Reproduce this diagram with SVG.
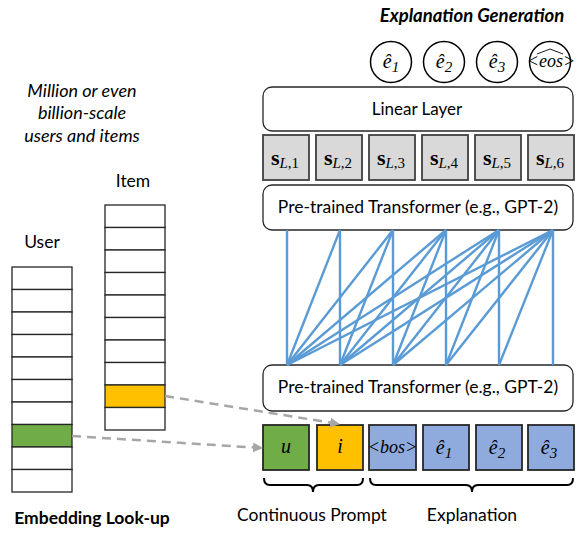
<svg xmlns="http://www.w3.org/2000/svg" width="588" height="546" viewBox="0 0 588 546">
<style>
.lbl{font-family:Lato,"Open Sans","Liberation Sans",sans-serif;font-size:17.5px;fill:#000}
.it{font-style:italic}
.bd{font-weight:bold}
.cell{fill:#fff;stroke:#262626;stroke-width:1.3}
.rbox{fill:#fff;stroke:#262626;stroke-width:1.3}
.sbox{fill:#d9d9d9;stroke:#404040;stroke-width:1.8}
.tok{stroke:#262626;stroke-width:1.8}
.math{font-family:"Liberation Serif","DejaVu Serif",serif;font-style:italic;font-size:20px;fill:#000}
.sb{font-family:"Liberation Serif","DejaVu Serif",serif;font-weight:bold;font-size:22px;fill:#000}
.sub{font-family:"Liberation Serif","DejaVu Serif",serif;font-size:15px;font-weight:normal}
.sit{font-style:italic}
.circ{fill:#fff;stroke:#000;stroke-width:1.5}
.att{stroke:#5b9bd5;stroke-width:2.4;fill:none}
.dash{stroke:#a6a6a6;stroke-width:2.5;stroke-dasharray:9 6;fill:none}
.brace{stroke:#000;stroke-width:2;fill:none}
</style>
<defs>
<marker id="ah" viewBox="0 0 10 10" refX="9" refY="5" markerWidth="4" markerHeight="4" orient="auto" markerUnits="strokeWidth">
<path d="M0,0 L10,5 L0,10 z" fill="#a6a6a6"/>
</marker>
</defs>

<g id="title-gen"><text class="lbl it bd" x="472" y="22" text-anchor="middle" style="font-size:18.5px">Explanation Generation</text></g>
<g id="note"><text class="lbl it" x="82" y="97" text-anchor="middle" style="font-size:18px">Million or even</text>
<text class="lbl it" x="82" y="119" text-anchor="middle" style="font-size:18px">billion-scale</text>
<text class="lbl it" x="82" y="142" text-anchor="middle" style="font-size:18px">users and items</text></g>

<g id="user-table">
<text class="lbl" x="42" y="248" text-anchor="middle">User</text>
<rect class="cell" x="12" y="267" width="60" height="22.5"/>
<rect class="cell" x="12" y="289.5" width="60" height="22.5"/>
<rect class="cell" x="12" y="312" width="60" height="22.5"/>
<rect class="cell" x="12" y="334.5" width="60" height="22.5"/>
<rect class="cell" x="12" y="357" width="60" height="22.5"/>
<rect class="cell" x="12" y="379.5" width="60" height="22.5"/>
<rect class="cell" x="12" y="402" width="60" height="22.5"/>
<rect class="cell" x="12" y="424.5" width="60" height="22.5" style="fill:#70ad47"/>
<rect class="cell" x="12" y="447" width="60" height="22.5"/>
<rect class="cell" x="12" y="469.5" width="60" height="22.5"/>
</g>
<g id="item-table">
<text class="lbl" x="133" y="187" text-anchor="middle">Item</text>
<rect class="cell" x="105" y="205" width="60" height="22.5"/>
<rect class="cell" x="105" y="227.5" width="60" height="22.5"/>
<rect class="cell" x="105" y="250" width="60" height="22.5"/>
<rect class="cell" x="105" y="272.5" width="60" height="22.5"/>
<rect class="cell" x="105" y="295" width="60" height="22.5"/>
<rect class="cell" x="105" y="317.5" width="60" height="22.5"/>
<rect class="cell" x="105" y="340" width="60" height="22.5"/>
<rect class="cell" x="105" y="362.5" width="60" height="22.5"/>
<rect class="cell" x="105" y="385" width="60" height="22.5" style="fill:#ffc000"/>
<rect class="cell" x="105" y="407.5" width="60" height="22.5"/>
</g>
<g id="embed-label"><text class="lbl bd" x="92" y="524" text-anchor="middle">Embedding Look-up</text></g>

<g id="outputs">
<circle class="circ" cx="391" cy="62" r="20.5"/>
<text class="math" x="391" y="68" text-anchor="middle">ê<tspan class="sub" dy="4">1</tspan></text>
<circle class="circ" cx="444" cy="62" r="20.5"/>
<text class="math" x="444" y="68" text-anchor="middle">ê<tspan class="sub" dy="4">2</tspan></text>
<circle class="circ" cx="497" cy="62" r="20.5"/>
<text class="math" x="497" y="68" text-anchor="middle">ê<tspan class="sub" dy="4">3</tspan></text>
<circle class="circ" cx="550" cy="62" r="20.5"/>
<text class="math" x="551" y="67" text-anchor="middle" style="font-size:18px">&lt;eos&gt;</text>
<polyline points="537,54 550,49 563,54" fill="none" stroke="#000" stroke-width="0.9"/>
</g>

<g id="linear-layer">
<rect class="rbox" x="263" y="87" width="310" height="44" rx="9"/>
<text class="lbl" x="417" y="115" text-anchor="middle" style="font-size:17px">Linear Layer</text>
</g>

<g id="hidden-states">
<rect class="sbox" x="263" y="135" width="46" height="45"/>
<text class="sb" x="285" y="165" text-anchor="middle">s<tspan class="sub sit" dy="3">L</tspan><tspan class="sub">,1</tspan></text>
<rect class="sbox" x="316" y="135" width="46" height="45"/>
<text class="sb" x="338" y="165" text-anchor="middle">s<tspan class="sub sit" dy="3">L</tspan><tspan class="sub">,2</tspan></text>
<rect class="sbox" x="369" y="135" width="46" height="45"/>
<text class="sb" x="391" y="165" text-anchor="middle">s<tspan class="sub sit" dy="3">L</tspan><tspan class="sub">,3</tspan></text>
<rect class="sbox" x="422" y="135" width="46" height="45"/>
<text class="sb" x="444" y="165" text-anchor="middle">s<tspan class="sub sit" dy="3">L</tspan><tspan class="sub">,4</tspan></text>
<rect class="sbox" x="475" y="135" width="46" height="45"/>
<text class="sb" x="497" y="165" text-anchor="middle">s<tspan class="sub sit" dy="3">L</tspan><tspan class="sub">,5</tspan></text>
<rect class="sbox" x="528" y="135" width="46" height="45"/>
<text class="sb" x="550" y="165" text-anchor="middle">s<tspan class="sub sit" dy="3">L</tspan><tspan class="sub">,6</tspan></text>
</g>

<g id="transformer-top">
<rect class="rbox" x="263" y="185" width="310" height="45" rx="9"/>
<text class="lbl" x="418" y="213" text-anchor="middle" style="font-size:17.5px">Pre-trained Transformer (e.g., GPT-2)</text>
</g>
<g id="transformer-bottom">
<rect class="rbox" x="263" y="365" width="310" height="46" rx="9"/>
<text class="lbl" x="418" y="393" text-anchor="middle" style="font-size:17.5px">Pre-trained Transformer (e.g., GPT-2)</text>
</g>

<g id="inputs">
<rect class="tok" x="263" y="425" width="46" height="45" fill="#70ad47"/>
<text class="math" x="286" y="453" text-anchor="middle">u</text>
<rect class="tok" x="317" y="425" width="46" height="45" fill="#ffc000"/>
<text class="math" x="340" y="453" text-anchor="middle">i</text>
<rect class="tok" x="369" y="425" width="47" height="45" fill="#8faadc"/>
<text class="math" x="392.5" y="453" text-anchor="middle" style="font-size:18px">&lt;bos&gt;</text>
<rect class="tok" x="423" y="425" width="46" height="45" fill="#8faadc"/>
<text class="math" x="444" y="454" text-anchor="middle">ê<tspan class="sub" dy="4">1</tspan></text>
<rect class="tok" x="476" y="425" width="46" height="45" fill="#8faadc"/>
<text class="math" x="497" y="454" text-anchor="middle">ê<tspan class="sub" dy="4">2</tspan></text>
<rect class="tok" x="528" y="425" width="46" height="45" fill="#8faadc"/>
<text class="math" x="549" y="454" text-anchor="middle">ê<tspan class="sub" dy="4">3</tspan></text>
</g>

<g id="braces">
<path class="brace" d="M264,478 Q264,485 270,485 L307,485 Q313,485 313,492 Q313,485 319,485 L357,485 Q363,485 363,478"/>
<path class="brace" d="M370,478 Q370,485 376,485 L466,485 Q472,485 472,492 Q472,485 478,485 L567,485 Q573,485 573,478"/>
<text class="lbl" x="312" y="521" text-anchor="middle">Continuous Prompt</text>
<text class="lbl" x="472" y="521" text-anchor="middle">Explanation</text>
</g>

<g id="connectors">
<line class="att" x1="287" y1="365" x2="287" y2="230"/>
<line class="att" x1="287" y1="365" x2="340" y2="230"/>
<line class="att" x1="287" y1="365" x2="393" y2="230"/>
<line class="att" x1="287" y1="365" x2="446" y2="230"/>
<line class="att" x1="287" y1="365" x2="499" y2="230"/>
<line class="att" x1="287" y1="365" x2="553" y2="230"/>
<line class="att" x1="340" y1="365" x2="340" y2="230"/>
<line class="att" x1="340" y1="365" x2="393" y2="230"/>
<line class="att" x1="340" y1="365" x2="446" y2="230"/>
<line class="att" x1="340" y1="365" x2="499" y2="230"/>
<line class="att" x1="340" y1="365" x2="553" y2="230"/>
<line class="att" x1="393" y1="365" x2="393" y2="230"/>
<line class="att" x1="393" y1="365" x2="446" y2="230"/>
<line class="att" x1="393" y1="365" x2="499" y2="230"/>
<line class="att" x1="393" y1="365" x2="553" y2="230"/>
<line class="att" x1="446" y1="365" x2="446" y2="230"/>
<line class="att" x1="446" y1="365" x2="499" y2="230"/>
<line class="att" x1="446" y1="365" x2="553" y2="230"/>
<line class="att" x1="499" y1="365" x2="499" y2="230"/>
<line class="att" x1="499" y1="365" x2="553" y2="230"/>
<line class="att" x1="553" y1="365" x2="553" y2="230"/>
<line class="dash" x1="72" y1="436" x2="262" y2="448" marker-end="url(#ah)"/>
<line class="dash" x1="165" y1="396" x2="339" y2="424" marker-end="url(#ah)"/>
</g>
</svg>
